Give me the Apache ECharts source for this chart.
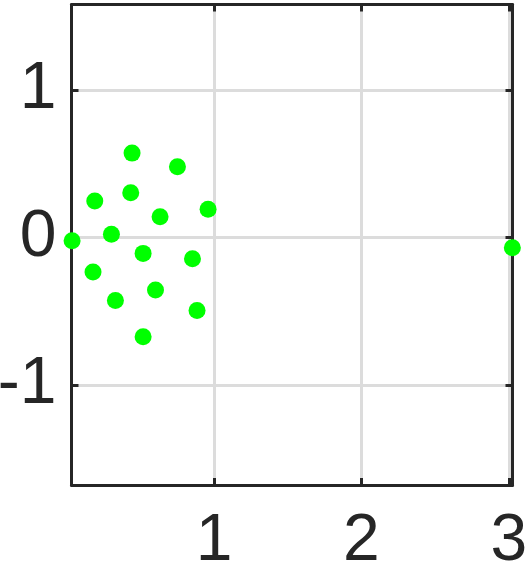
<!DOCTYPE html>
<html>
<head>
<meta charset="utf-8">
<script src="https://cdn.jsdelivr.net/npm/echarts@6/dist/echarts.min.js"></script>
<style>html,body{margin:0;padding:0;background:#fff;}#c{width:527px;height:570px;}</style>
</head>
<body>
<div id="c"></div>
<script>
const xValues = [0.443, 0.751, 0.190, 0.434, 0.633, 0.959, 0.303, 0.036, 0.518, 0.853, 0.178, 0.602, 0.330, 0.884, 0.518, 3.024];
const yValues = [0.573, 0.480, 0.249, 0.304, 0.141, 0.193, 0.022, -0.022, -0.107, -0.144, -0.234, -0.356, -0.427, -0.494, -0.672, -0.069];
const xTicks = [1, 2, 3];
const yTicks = [-1, 0, 1];
const xRange = [0.032, 3.025];
const yRange = [-1.678, 1.581];

const points = xValues.map((x, i) => [x, yValues[i]]);
const dark = '#262626';
const gridColor = '#dcdcdc';
const font = { fontFamily: 'Liberation Sans, Arial, sans-serif', fontSize: 66, color: dark };

function axisCommon(vals, showLabel, position, margin) {
  return {
    type: 'value',
    position: position,
    axisLine: { show: true, onZero: false, lineStyle: { color: dark, width: 3 } },
    axisTick: { show: true, inside: true, length: 7, customValues: vals, lineStyle: { color: dark, width: 3 } },
    axisLabel: Object.assign({ show: showLabel, customValues: vals, margin: margin }, font),
    splitLine: { show: false }
  };
}

const chart = echarts.init(document.getElementById('c'), null, { renderer: 'canvas' });
chart.setOption({
  animation: false,
  backgroundColor: '#fff',
  grid: { left: 71.5, right: 14.5, top: 4.5, bottom: 85, containLabel: false, outerBoundsMode: 'none' },
  xAxis: [
    Object.assign(axisCommon(xTicks, true, 'bottom', 24), { min: xRange[0], max: xRange[1],
      splitLine: { show: true, lineStyle: { color: gridColor, width: 3 } } }),
    Object.assign(axisCommon(xTicks, false, 'top', 8), { min: xRange[0], max: xRange[1] })
  ],
  yAxis: [
    Object.assign(axisCommon(yTicks, true, 'left', 15), { min: yRange[0], max: yRange[1],
      splitLine: { show: true, lineStyle: { color: gridColor, width: 3 } } }),
    Object.assign(axisCommon(yTicks, false, 'right', 8), { min: yRange[0], max: yRange[1] })
  ],
  series: [{
    type: 'scatter',
    data: points,
    symbol: 'circle',
    symbolSize: 17,
    itemStyle: { color: '#00ff00', opacity: 1 },
    z: 5
  }]
});
</script>
</body>
</html>
